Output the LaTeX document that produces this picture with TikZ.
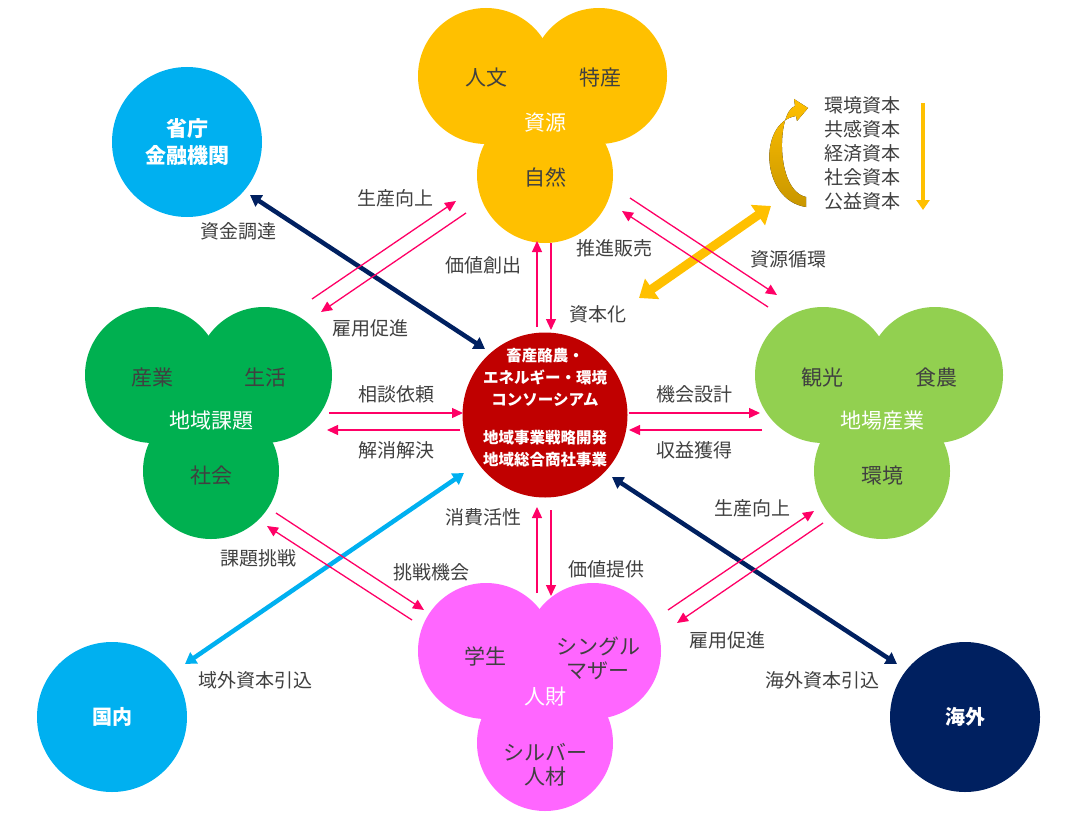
\documentclass[tikz,border=0pt]{standalone}
\usepackage{fontspec}
\setmainfont{Noto Sans CJK JP}
\usetikzlibrary{arrows.meta}
\definecolor{resyel}{HTML}{FFC000}
\definecolor{regreen}{HTML}{00B050}
\definecolor{localgreen}{HTML}{92D050}
\definecolor{hrpink}{HTML}{FF66FF}
\definecolor{corered}{HTML}{C00000}
\definecolor{skyblue}{HTML}{00B0F0}
\definecolor{navyblue}{HTML}{002060}
\definecolor{flowpink}{HTML}{FF0066}
\definecolor{txtgray}{HTML}{404040}
\definecolor{darkgold}{HTML}{C89600}

\tikzset{
  blob/.style={circle, fill=#1, inner sep=0pt, minimum size=136pt},
  lbl/.style={text=txtgray, font=\fontsize{19}{21}\selectfont, inner sep=0pt},
  inlbl/.style={text=txtgray, font=\fontsize{21}{24}\selectfont, inner sep=0pt, align=center},
  wlbl/.style={text=white, font=\fontsize{21}{24}\selectfont, inner sep=0pt},
  flow/.style={flowpink, line width=1.3pt, -{Triangle[length=11pt,width=10pt]}},
  link/.style={line width=4.5pt, {Triangle[length=11pt,width=13pt]}-{Triangle[length=11pt,width=13pt]}},
}

\begin{document}
\begin{tikzpicture}[x=1pt,y=-1pt]
\useasboundingbox (0,0) rectangle (1067,824);

% resource cluster
\node[blob=resyel] (resL) at (486,76) {};
\node[blob=resyel] (resR) at (599,76) {};
\node[blob=resyel] (resB) at (545,175) {};
\node[inlbl] (jinbun) at (486,78) {人文};
\node[inlbl] (tokusan) at (600,78) {特産};
\node[wlbl] (shigen) at (545,123) {資源};
\node[inlbl] (shizen) at (545,177) {自然};

% regional issues cluster
\node[blob=regreen] (issL) at (153,375) {};
\node[blob=regreen] (issR) at (264,375) {};
\node[blob=regreen] (issB) at (211,471) {};
\node[inlbl] (sangyou) at (152,378) {産業};
\node[inlbl] (seikatsu) at (265,378) {生活};
\node[wlbl] (chiiki) at (211,421) {地域課題};
\node[inlbl] (shakai) at (211,476) {社会};

% local industry cluster
\node[blob=localgreen] (indL) at (823,375) {};
\node[blob=localgreen] (indR) at (935,375) {};
\node[blob=localgreen] (indB) at (882,471) {};
\node[inlbl] (kankou) at (822,378) {観光};
\node[inlbl] (shokunou) at (936,378) {食農};
\node[wlbl] (jiba) at (882,421) {地場産業};
\node[inlbl] (kankyou) at (882,476) {環境};

% human resources cluster
\node[blob=hrpink] (hrL) at (486,651) {};
\node[blob=hrpink] (hrR) at (593,651) {};
\node[blob=hrpink] (hrB) at (545,743) {};
\node[inlbl] (gakusei) at (485,656) {学生};
\node[inlbl] (single) at (598,658) {シングル\\マザー};
\node[wlbl] (jinzai) at (545,697) {人財};
\node[inlbl] (silver) at (545,765) {シルバー\\人材};

% core and outer circles
\node[circle, fill=corered, minimum size=165pt, inner sep=0pt] (core) at (545,415) {};
\node[text=white, align=center, font=\bfseries\fontsize{15.5}{22}\selectfont] (coretxt) at (545,408)
  {畜産酪農・\\エネルギー・環境\\コンソーシアム\\[16pt]地域事業戦略開発\\地域総合商社事業};
\node[circle, fill=skyblue, minimum size=150pt, inner sep=0pt] (gov) at (187,142) {};
\node[text=white, align=center, font=\bfseries\fontsize{21}{27}\selectfont] (govtxt) at (187,142) {省庁\\金融機関};
\node[circle, fill=skyblue, minimum size=150pt, inner sep=0pt] (domestic) at (112,717) {};
\node[text=white, font=\bfseries\fontsize{20}{24}\selectfont] (domtxt) at (112,717) {国内};
\node[circle, fill=navyblue, minimum size=150pt, inner sep=0pt] (overseas) at (965,717) {};
\node[text=white, font=\bfseries\fontsize{20}{24}\selectfont] (ovstxt) at (965,717) {海外};

% capital list
\node[text=txtgray, align=center, font=\fontsize{19}{24}\selectfont] (caplist) at (862,153)
  {環境資本\\共感資本\\経済資本\\社会資本\\公益資本};
\fill[top color=resyel, bottom color=darkgold]
  (806,207) .. controls (760,200) and (758,122) .. (796,116)
  -- (797,121) -- (808,108) -- (794,99) -- (795,106)
  .. controls (777,112) and (775,190) .. (806,197) -- cycle;
\coordinate (capTop) at (923,103);
\coordinate (capBot) at (923,210);
\draw[resyel, line width=4.5pt, -{Triangle[length=10pt,width=13pt]}] (capTop) -- (capBot);

% long links
\coordinate (govEnd) at (250,195);
\coordinate (coreNW) at (485,349);
\draw[link, navyblue] (govEnd) -- (coreNW);
\coordinate (ovsEnd) at (897,664);
\coordinate (coreSE) at (612,477);
\draw[link, navyblue] (ovsEnd) -- (coreSE);
\coordinate (domEnd) at (185,664);
\coordinate (coreSW) at (464,473);
\draw[link, skyblue] (domEnd) -- (coreSW);
\coordinate (yelA) at (771,206);
\coordinate (yelB) at (639,298);
\draw[resyel, line width=9pt, {Triangle[length=16pt,width=24pt]}-{Triangle[length=16pt,width=24pt]}] (yelA) -- (yelB);

% flows: issues <-> resource
\coordinate (f1a) at (312,299); \coordinate (f1b) at (456,201);
\coordinate (f2a) at (466,213); \coordinate (f2b) at (321,312);
\draw[flow] (f1a) -- (f1b);
\draw[flow] (f2a) -- (f2b);
% resource <-> industry
\coordinate (f3a) at (630,198); \coordinate (f3b) at (777,295);
\coordinate (f4a) at (768,307); \coordinate (f4b) at (622,211);
\draw[flow] (f3a) -- (f3b);
\draw[flow] (f4a) -- (f4b);
% core <-> resource
\coordinate (f5a) at (537,327); \coordinate (f5b) at (537,241);
\coordinate (f6a) at (551,243); \coordinate (f6b) at (551,330);
\draw[flow] (f5a) -- (f5b);
\draw[flow] (f6a) -- (f6b);
% issues <-> core
\coordinate (f7a) at (329,413); \coordinate (f7b) at (463,413);
\coordinate (f8a) at (460,430); \coordinate (f8b) at (327,430);
\draw[flow] (f7a) -- (f7b);
\draw[flow] (f8a) -- (f8b);
% core <-> industry
\coordinate (f9a) at (629,413); \coordinate (f9b) at (760,413);
\coordinate (f10a) at (762,430); \coordinate (f10b) at (629,430);
\draw[flow] (f9a) -- (f9b);
\draw[flow] (f10a) -- (f10b);
% core <-> human resources
\coordinate (f11a) at (537,593); \coordinate (f11b) at (537,507);
\coordinate (f12a) at (551,510); \coordinate (f12b) at (551,596);
\draw[flow] (f11a) -- (f11b);
\draw[flow] (f12a) -- (f12b);
% issues <-> human resources
\coordinate (f13a) at (276,513); \coordinate (f13b) at (424,610);
\coordinate (f14a) at (412,620); \coordinate (f14b) at (267,526);
\draw[flow] (f13a) -- (f13b);
\draw[flow] (f14a) -- (f14b);
% human resources <-> industry
\coordinate (f15a) at (668,610); \coordinate (f15b) at (814,511);
\coordinate (f16a) at (823,523); \coordinate (f16b) at (677,623);
\draw[flow] (f15a) -- (f15b);
\draw[flow] (f16a) -- (f16b);

% labels
\node[lbl] (seisanA) at (395,198) {生産向上};
\node[lbl] (shikin) at (238,231) {資金調達};
\node[lbl] (kachiA) at (483,265) {価値創出};
\node[lbl] (suishin) at (614,248) {推進販売};
\node[lbl] (junkan) at (788,259) {資源循環};
\node[lbl] (shihonka) at (598,314) {資本化};
\node[lbl] (koyouA) at (370,328) {雇用促進};
\node[lbl] (soudan) at (396,394) {相談依頼};
\node[lbl] (kaishou) at (396,450) {解消解決};
\node[lbl] (kikai) at (694,394) {機会設計};
\node[lbl] (shueki) at (694,450) {収益獲得};
\node[lbl] (shouhi) at (483,517) {消費活性};
\node[lbl] (seisanB) at (752,508) {生産向上};
\node[lbl] (kadai) at (258,558) {課題挑戦};
\node[lbl] (chousen) at (431,572) {挑戦機会};
\node[lbl] (kachiB) at (606,569) {価値提供};
\node[lbl] (koyouB) at (727,640) {雇用促進};
\node[lbl] (ikigai) at (255,680) {域外資本引込};
\node[lbl] (kaigai) at (822,680) {海外資本引込};
\end{tikzpicture}
\end{document}
